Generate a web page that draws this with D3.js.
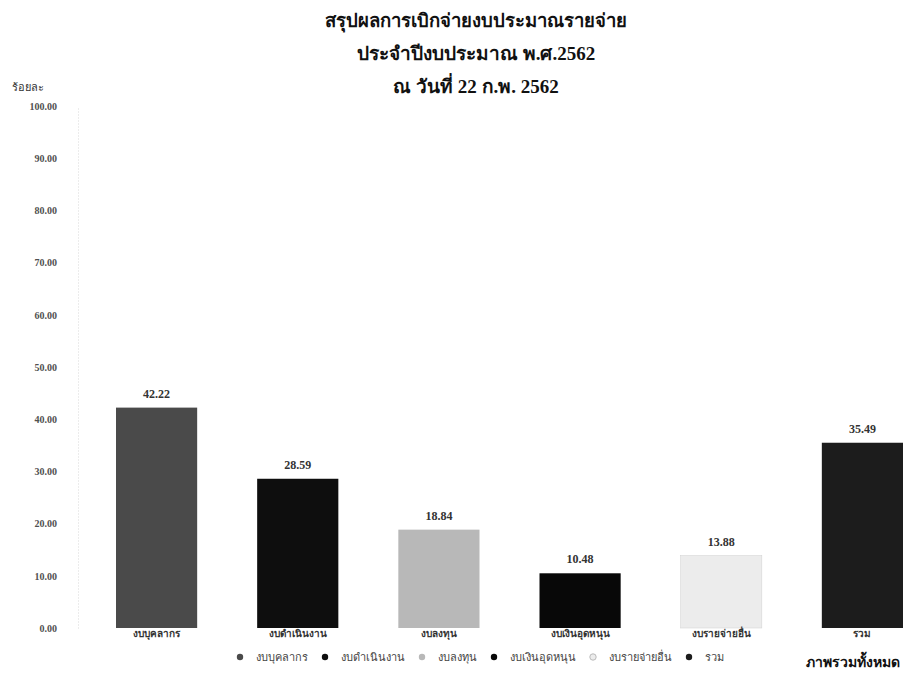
<!DOCTYPE html>
<html>
<head>
<meta charset="utf-8">
<script src="https://cdn.jsdelivr.net/npm/d3@7"></script>
<style>
  html, body { margin: 0; padding: 0; background: #fff; }
  svg { display: block; }
  text { font-family: "Liberation Serif", "DejaVu Serif", serif; }
</style>
</head>
<body>
<svg id="chart" width="904" height="681"></svg>
<script>
// ---- data ----
const titleLines = ["สรุปผลการเบิกจ่ายงบประมาณรายจ่าย", "ประจำปีงบประมาณ พ.ศ.2562", "ณ วันที่ 22 ก.พ. 2562"];
const yAxisLabel = "ร้อยละ";
const categories = ["งบบุคลากร", "งบดำเนินงาน", "งบลงทุน", "งบเงินอุดหนุน", "งบรายจ่ายอื่น", "รวม"];
const values = [42.22, 28.59, 18.84, 10.48, 13.88, 35.49];
const legendLabels = ["งบบุคลากร", "งบดำเนินงาน", "งบลงทุน", "งบเงินอุดหนุน", "งบรายจ่ายอื่น", "รวม"];
const yTicks = [0, 10, 20, 30, 40, 50, 60, 70, 80, 90, 100];
const footnote = "ภาพรวมทั้งหมด";
const barColors = ["#4a4a4a", "#0e0e0e", "#b8b8b8", "#080808", "#ececec", "#1c1c1c"];

// ---- layout ----
const svg = d3.select("#chart");
const x = d3.scaleBand().domain(categories).range([116, 903]).paddingInner(0.425).paddingOuter(0);
const y = d3.scaleLinear().domain([0, 100]).range([628, 106]);

// title
svg.append("g").selectAll("text").data(titleLines).join("text")
  .attr("x", 476).attr("y", (d, i) => 27 + i * 33)
  .attr("text-anchor", "middle")
  .attr("font-size", (d, i) => i === 0 ? 18.5 : 19).attr("font-weight", "bold").attr("fill", "#111")
  .text(d => d);

// y axis label
svg.append("text").attr("x", 28).attr("y", 91).attr("text-anchor", "middle")
  .attr("font-size", 11).style("fill", "#333").text(yAxisLabel);

// y axis
const yAxis = svg.append("g").attr("transform", "translate(78,0)")
  .call(d3.axisLeft(y).tickValues(yTicks).tickFormat(d3.format(".2f")).tickSize(0).tickPadding(21));
yAxis.select(".domain").attr("stroke", "#d8d8d8").attr("stroke-dasharray", "1,2");
yAxis.selectAll("text")
  .style("fill", "#505050")
  .style("font-size", "10px").style("font-weight", "bold")
  .style("font-family", "'Liberation Serif', serif");

// bars
svg.append("g").selectAll("rect").data(values).join("rect")
  .attr("x", (d, i) => x(categories[i]))
  .attr("width", x.bandwidth())
  .attr("y", d => y(d))
  .attr("height", d => y(0) - y(d))
  .attr("fill", (d, i) => barColors[i])
  .attr("stroke", (d, i) => i === 4 ? "#d0d0d0" : "none")
  .attr("stroke-width", 0.5);

// value labels
svg.append("g").selectAll("text").data(values).join("text")
  .attr("x", (d, i) => x(categories[i]) + x.bandwidth() / 2)
  .attr("y", d => y(d) - 10)
  .attr("text-anchor", "middle")
  .attr("font-size", 12).attr("font-weight", "bold").style("fill", "#333")
  .text(d => d3.format(".2f")(d));

// category labels
svg.append("g").selectAll("text").data(categories).join("text")
  .attr("x", d => x(d) + x.bandwidth() / 2)
  .attr("y", 637)
  .attr("text-anchor", "middle")
  .attr("font-size", 10).attr("font-weight", "bold").style("fill", "#333")
  .text(d => d);

// legend
const legend = svg.append("g");
let cx = 240;
legendLabels.forEach((lab, i) => {
  legend.append("circle").attr("cx", cx).attr("cy", 657).attr("r", 3.2)
    .attr("fill", barColors[i]).attr("stroke", i === 4 ? "#bbb" : "none");
  const t = legend.append("text").attr("x", cx + 16).attr("y", 661)
    .attr("font-size", 11).style("fill", "#444").text(lab);
  cx += 16 + t.node().getComputedTextLength() + 17;
});

// footnote under last category
svg.append("text").attr("x", 900).attr("y", 667)
  .attr("text-anchor", "end").attr("font-size", 14).attr("font-weight", "bold")
  .style("fill", "#111").text(footnote);
</script>
</body>
</html>
